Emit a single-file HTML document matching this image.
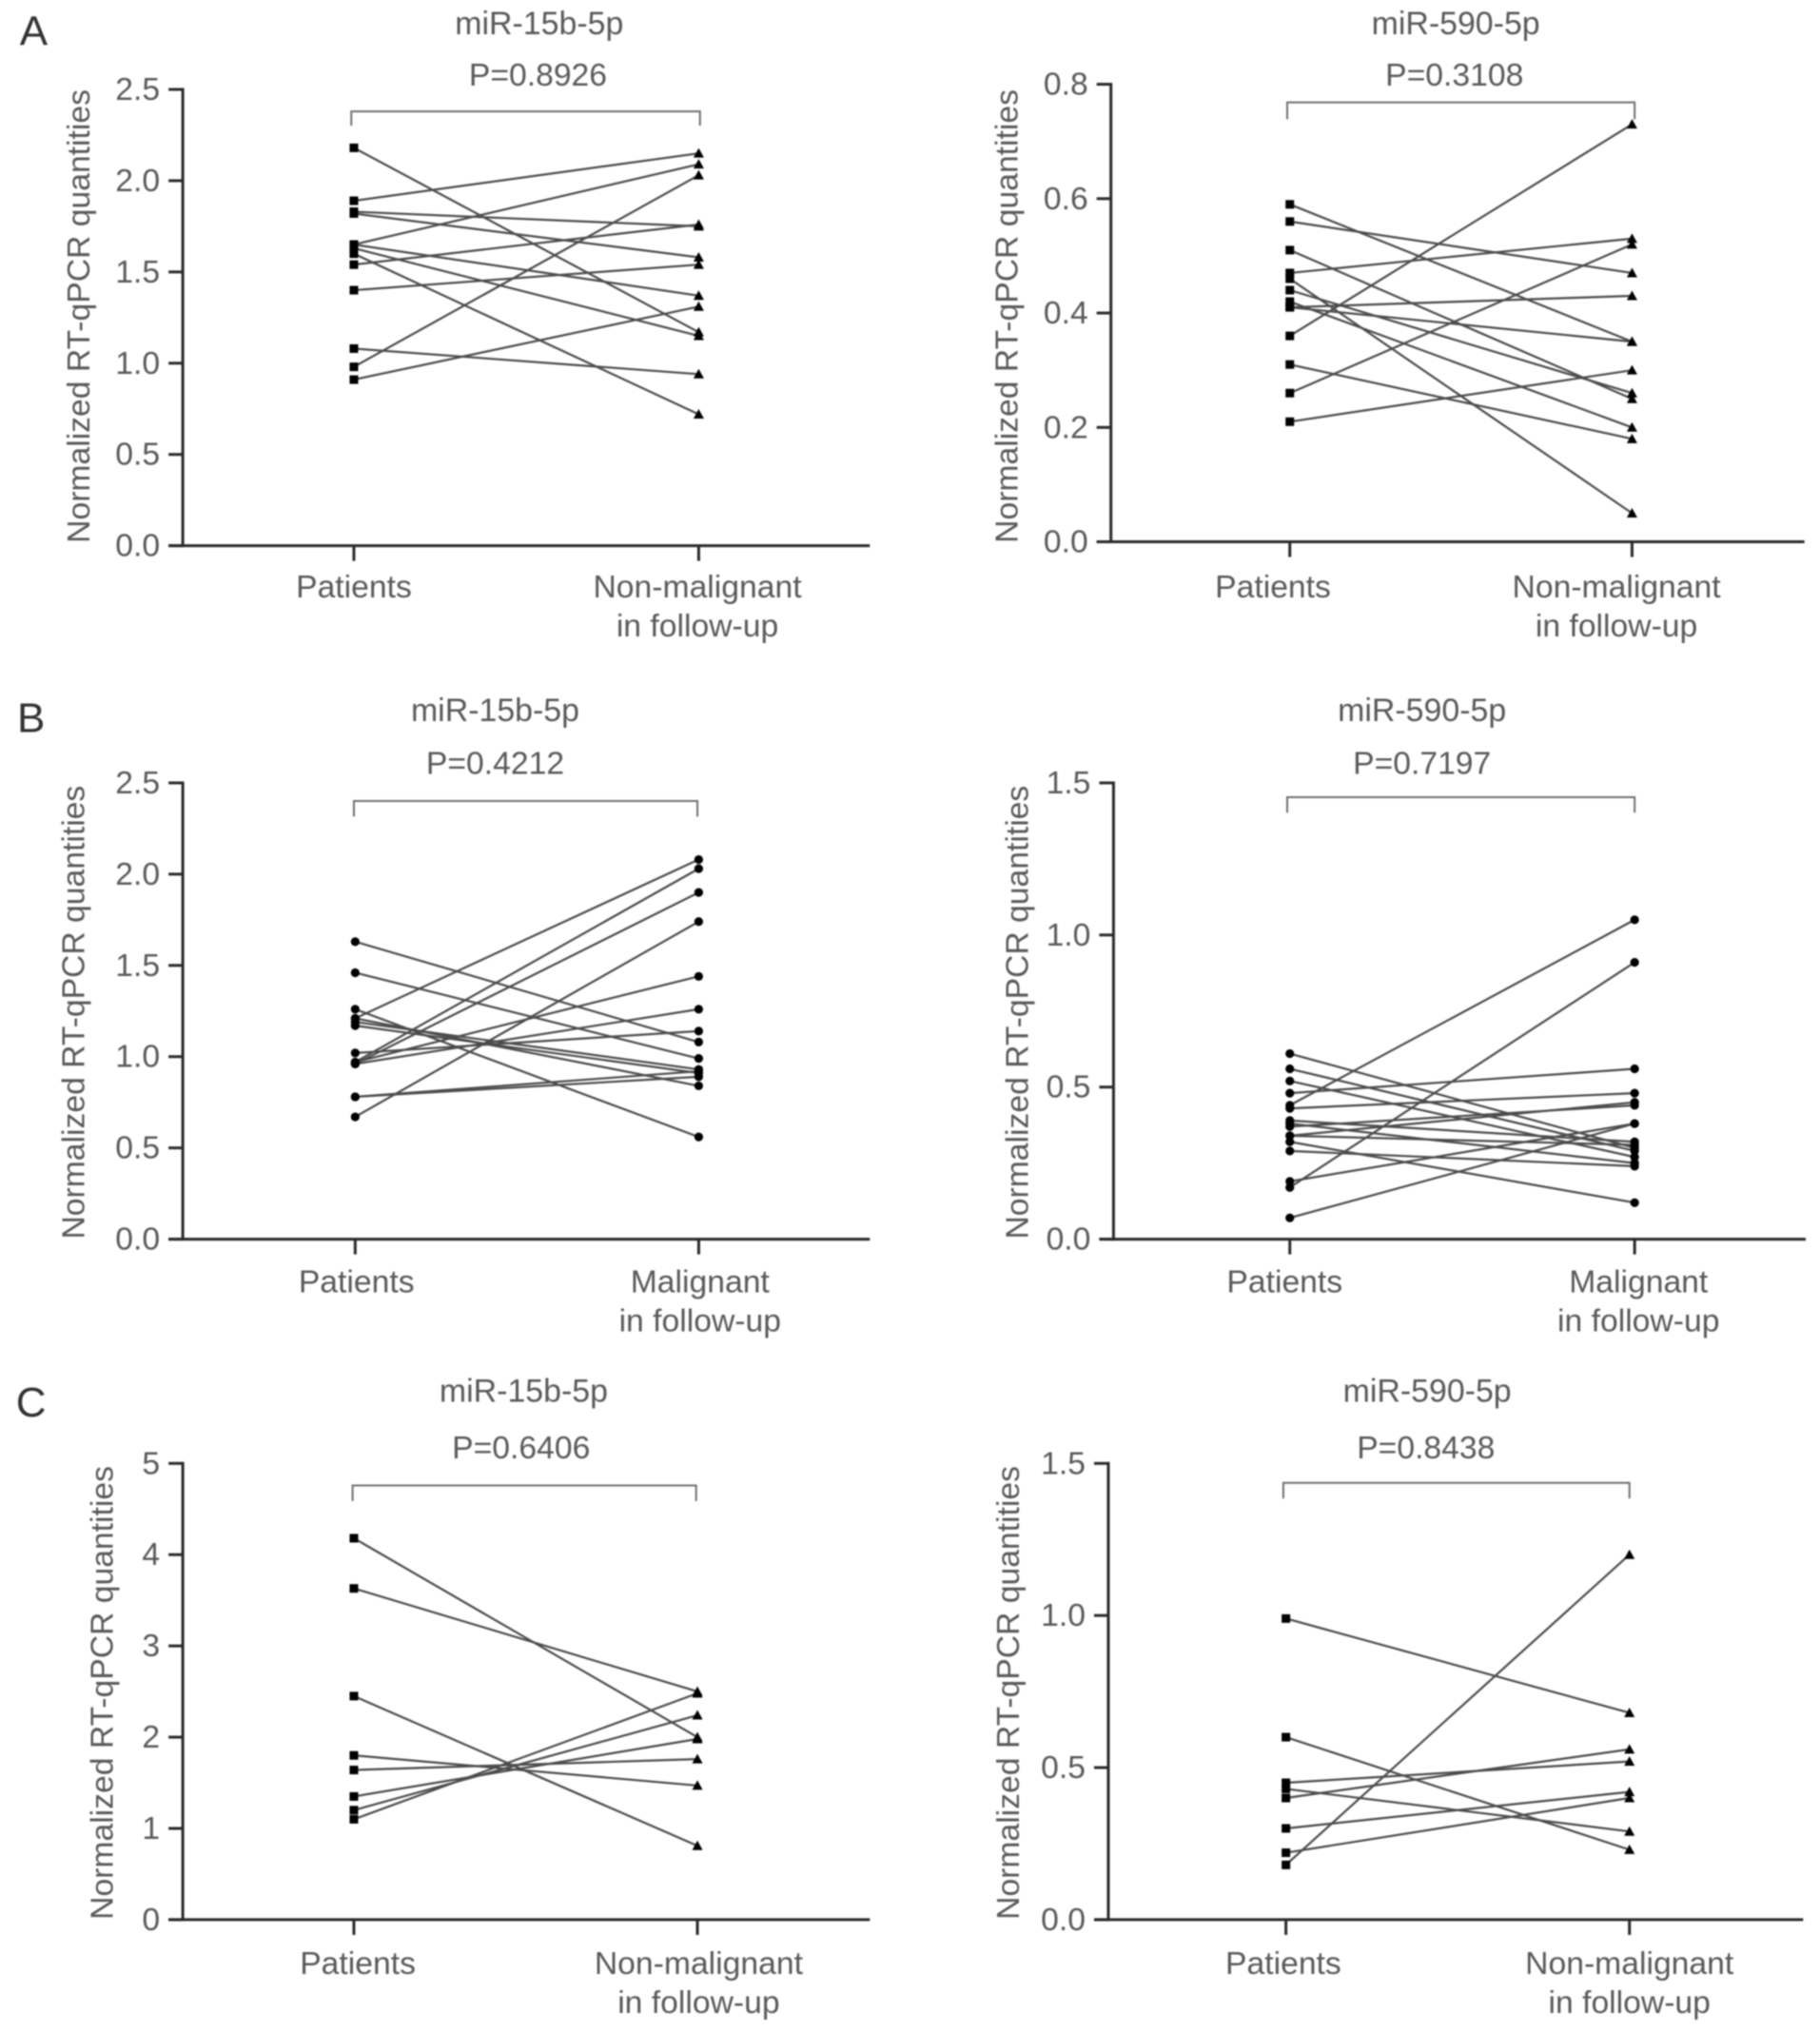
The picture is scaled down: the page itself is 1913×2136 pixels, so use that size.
<!DOCTYPE html>
<html lang="en">
<head>
<meta charset="utf-8">
<title>Normalized RT-qPCR quantities of miR-15b-5p and miR-590-5p</title>
<style>
html,body{margin:0;padding:0;background:#fff;}
svg{display:block;filter:blur(0.9px);}
text{font-family:"Liberation Sans",sans-serif;fill:#5a5a5a;}
</style>
</head>
<body>
<svg id="figure" width="1913" height="2136" viewBox="0 0 1913 2136" xmlns="http://www.w3.org/2000/svg">
<rect width="1913" height="2136" fill="#ffffff"/>
</svg>
<script>
// ---- Data ----
const yTitle = 'Normalized RT-qPCR quantities';
const followNon = ['Non-malignant', 'in follow-up'];
const followMal = ['Malignant', 'in follow-up'];

const aLeftPatients = [2.18, 1.89, 1.83, 1.82, 1.65, 1.65, 1.63, 1.60, 1.54, 1.40, 1.08, 0.98, 0.91];
const aLeftFollowUp = [1.17, 2.15, 1.75, 1.58, 2.09, 1.37, 1.15, 0.72, 1.76, 1.54, 0.94, 2.03, 1.31];
const aLeftTicks = [0, 0.5, 1, 1.5, 2, 2.5];
const aLeftTickLabels = ['0.0', '0.5', '1.0', '1.5', '2.0', '2.5'];

const aRightPatients = [0.59, 0.56, 0.51, 0.47, 0.46, 0.44, 0.42, 0.41, 0.41, 0.36, 0.31, 0.26, 0.21];
const aRightFollowUp = [0.35, 0.47, 0.25, 0.53, 0.05, 0.26, 0.20, 0.43, 0.35, 0.73, 0.18, 0.52, 0.30];
const aRightTicks = [0, 0.2, 0.4, 0.6, 0.8];
const aRightTickLabels = ['0.0', '0.2', '0.4', '0.6', '0.8'];

const bLeftPatients = [1.63, 1.46, 1.26, 1.21, 1.19, 1.17, 1.21, 0.97, 0.96, 0.67, 0.97, 1.02, 0.96, 0.78, 0.78];
const bLeftFollowUp = [1.08, 0.99, 0.56, 0.84, 0.93, 0.91, 2.08, 2.03, 1.90, 1.74, 1.44, 1.14, 1.26, 0.92, 0.89];
const bLeftTicks = [0, 0.5, 1, 1.5, 2, 2.5];
const bLeftTickLabels = ['0.0', '0.5', '1.0', '1.5', '2.0', '2.5'];

const bRightPatients = [0.61, 0.56, 0.52, 0.48, 0.44, 0.43, 0.39, 0.38, 0.37, 0.34, 0.34, 0.32, 0.29, 0.19, 0.17, 0.07];
const bRightFollowUp = [0.30, 0.29, 0.27, 0.56, 1.05, 0.48, 0.32, 0.25, 0.44, 0.31, 0.45, 0.12, 0.24, 0.38, 0.91, 0.38];
const bRightTicks = [0, 0.5, 1, 1.5];
const bRightTickLabels = ['0.0', '0.5', '1.0', '1.5'];

const cLeftPatients = [4.18, 3.63, 2.45, 1.80, 1.64, 1.35, 1.20, 1.10];
const cLeftFollowUp = [2.00, 2.50, 0.81, 1.47, 1.76, 1.98, 2.24, 2.48];
const cLeftTicks = [0, 1, 2, 3, 4, 5];
const cLeftTickLabels = ['0', '1', '2', '3', '4', '5'];

const cRightPatients = [0.99, 0.60, 0.45, 0.43, 0.40, 0.30, 0.22, 0.18];
const cRightFollowUp = [0.68, 0.23, 0.52, 0.29, 0.56, 0.42, 0.40, 1.20];
const cRightTicks = [0, 0.5, 1, 1.5];
const cRightTickLabels = ['0.0', '0.5', '1.0', '1.5'];

// ---- Panel definitions: layout is expressed in 1404-wide units, scaled by S ----
const S = 1913 / 1404;
const panels = [
  {id:'a-left', before:aLeftPatients, after:aLeftFollowUp, ticks:aLeftTicks, tickLabels:aLeftTickLabels, marker:'triangle',
   title:'miR-15b-5p', p:'P=0.8926', follow:followNon,
   axisX:141, base:421, top:69, right:671, cat1:273, cat2:539, titleX:416, titleY:19, pX:415, pY:58,
   brY:86, brEnd:97, br1:271, br2:540, lab1:273, lab2:538, labY:453, yTitleX:61, yTitleY:244},
  {id:'a-right', before:aRightPatients, after:aRightFollowUp, ticks:aRightTicks, tickLabels:aRightTickLabels, marker:'triangle',
   title:'miR-590-5p', p:'P=0.3108', follow:followNon,
   axisX:857, base:418, top:65, right:1392, cat1:995, cat2:1259, titleX:1123, titleY:19, pX:1122, pY:58,
   brY:79, brEnd:92, br1:993, br2:1261, lab1:982, lab2:1247, labY:453, yTitleX:777, yTitleY:244},
  {id:'b-left', before:bLeftPatients, after:bLeftFollowUp, ticks:bLeftTicks, tickLabels:bLeftTickLabels, marker:'circle',
   title:'miR-15b-5p', p:'P=0.4212', follow:followMal,
   axisX:141, base:956, top:604, right:671, cat1:274, cat2:539, titleX:382, titleY:549, pX:382, pY:589,
   brY:618, brEnd:630, br1:273, br2:538, lab1:275, lab2:540, labY:989, yTitleX:57, yTitleY:781},
  {id:'b-right', before:bRightPatients, after:bRightFollowUp, ticks:bRightTicks, tickLabels:bRightTickLabels, marker:'circle',
   title:'miR-590-5p', p:'P=0.7197', follow:followMal,
   axisX:859, base:956, top:604, right:1393, cat1:995, cat2:1261, titleX:1097, titleY:549, pX:1097, pY:589,
   brY:615, brEnd:627, br1:993, br2:1261, lab1:991, lab2:1264, labY:989, yTitleX:785, yTitleY:781},
  {id:'c-left', before:cLeftPatients, after:cLeftFollowUp, ticks:cLeftTicks, tickLabels:cLeftTickLabels, marker:'triangle',
   title:'miR-15b-5p', p:'P=0.6406', follow:followNon,
   axisX:141, base:1481, top:1129, right:671, cat1:273, cat2:538, titleX:404, titleY:1074, pX:402, pY:1117,
   brY:1146, brEnd:1158, br1:272, br2:537, lab1:276, lab2:539, labY:1515, yTitleX:79, yTitleY:1306},
  {id:'c-right', before:cRightPatients, after:cRightFollowUp, ticks:cRightTicks, tickLabels:cRightTickLabels, marker:'triangle',
   title:'miR-590-5p', p:'P=0.8438', follow:followNon,
   axisX:855, base:1481, top:1129, right:1391, cat1:992, cat2:1257, titleX:1101, titleY:1074, pX:1100, pY:1117,
   brY:1144, brEnd:1156, br1:990, br2:1257, lab1:990, lab2:1257, labY:1515, yTitleX:778, yTitleY:1306}
];
const panelLetters = ['A', 'B', 'C'];
const panelLetterY = [23, 553, 1081];
const panelLetterX = [26, 24, 24];

const NS = 'http://www.w3.org/2000/svg';
const svg = document.getElementById('figure');
const FONT = 33.7;
const AXIS = '#2a2a2a';
const LINE = '#4c4c4c';

function mk(parent, tag, attrs) {
  const el = document.createElementNS(NS, tag);
  for (const k in attrs) el.setAttribute(k, attrs[k]);
  parent.appendChild(el);
  return el;
}
function label(parent, str, x, y, anchor, size) {
  const t = mk(parent, 'text', {x: x, y: y, 'text-anchor': anchor, 'font-size': size});
  t.textContent = str;
  return t;
}

panels.forEach(function (p) {
  const g = mk(svg, 'g', {});
  
  

  // Axis functions
  const yMax = p.ticks[p.ticks.length - 1];
  const yScale = function (v) { return (p.base - (v / yMax) * (p.base - p.top)) * S; };
  const xScale = function (i) { return (i === 0 ? p.cat1 : p.cat2) * S; };
  const axisX = p.axisX * S, baseY = p.base * S, topY = p.top * S;

  // Y axis
  const yAxis = mk(g, 'line', {x1: axisX, x2: axisX, y1: topY - 1.5, y2: baseY + 1.5, stroke: AXIS, 'stroke-width': 3});
  
  

  // X axis
  const xAxis = mk(g, 'line', {x1: axisX - 15, x2: p.right * S, y1: baseY, y2: baseY, stroke: AXIS, 'stroke-width': 3});
  
  

  // Y ticks and labels
  p.ticks.forEach(function (v, i) {
    const tick = mk(g, 'line', {x1: axisX - 15, x2: axisX, y1: yScale(v), y2: yScale(v), stroke: AXIS, 'stroke-width': 3});
    
    
    const lab = label(g, p.tickLabels[i], axisX - 24, yScale(v) + 11, 'end', FONT);
    
    
  });

  // X ticks
  [0, 1].forEach(function (i) {
    const tick = mk(g, 'line', {x1: xScale(i), x2: xScale(i), y1: baseY, y2: baseY + 16, stroke: AXIS, 'stroke-width': 3});
    
    
  });

  // Category labels
  const lab1 = label(g, 'Patients', p.lab1 * S, p.labY * S + 11, 'middle', FONT);
  
  
  const lab2 = label(g, p.follow[0], p.lab2 * S, p.labY * S + 11, 'middle', FONT);
  
  
  const lab3 = label(g, p.follow[1], p.lab2 * S, (p.labY + 30) * S + 11, 'middle', FONT);
  
  

  // Y title
  const yt = label(g, yTitle, 0, 0, 'middle', FONT);
  yt.setAttribute('transform', 'translate(' + (p.yTitleX * S + 11) + ',' + (p.yTitleY * S) + ') rotate(-90)');
  
  

  // Title and P value
  const title = label(g, p.title, p.titleX * S, p.titleY * S + 10, 'middle', FONT + 0.2);
  
  
  const pv = label(g, p.p, p.pX * S, p.pY * S + 11, 'middle', FONT);
  
  

  // Significance bracket
  const br = mk(g, 'path', {
    d: 'M' + p.br1 * S + ' ' + p.brEnd * S + 'V' + p.brY * S + 'H' + p.br2 * S + 'V' + p.brEnd * S,
    fill: 'none', stroke: '#6f6f6f', 'stroke-width': 2
  });
  
  

  // Paired lines
  p.before.forEach(function (v, i) {
    const ln = mk(g, 'line', {x1: xScale(0), y1: yScale(v), x2: xScale(1), y2: yScale(p.after[i]), stroke: LINE, 'stroke-width': 2.2});
    
    
  });

  // Markers: patient side
  p.before.forEach(function (v) {
    let m;
    if (p.marker === 'circle') {
      m = mk(g, 'circle', {cx: xScale(0), cy: yScale(v), r: 4.6, fill: '#000'});
    } else {
      m = mk(g, 'rect', {x: xScale(0) - 4.5, y: yScale(v) - 4.5, width: 9, height: 9, fill: '#000'});
    }
    
    
  });

  // Markers: follow-up side
  p.after.forEach(function (v) {
    const cx = xScale(1), cy = yScale(v);
    let m;
    if (p.marker === 'circle') {
      m = mk(g, 'circle', {cx: cx, cy: cy, r: 4.6, fill: '#000'});
    } else {
      m = mk(g, 'polygon', {points: (cx - 5.5) + ',' + (cy + 4.5) + ' ' + (cx + 5.5) + ',' + (cy + 4.5) + ' ' + cx + ',' + (cy - 5.5), fill: '#000'});
    }
    
    
  });
});

panelLetters.forEach(function (s, i) {
  const t = label(svg, s, panelLetterX[i] * S, panelLetterY[i] * S + 16, 'middle', 44);
  t.setAttribute('style', 'fill:#333');
  
  
});
</script>
</body>
</html>
